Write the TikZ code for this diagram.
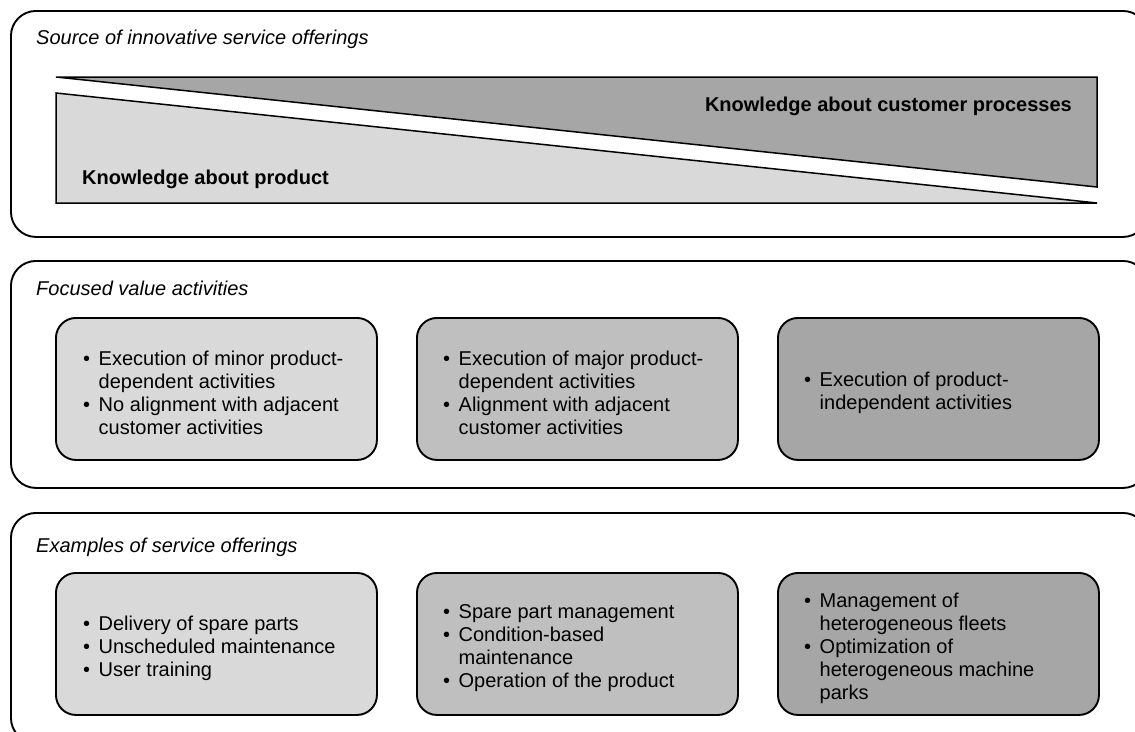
\documentclass[tikz,border=0pt]{standalone}
\usepackage{fontspec}
\setmainfont{Liberation Sans}
\definecolor{lightg}{HTML}{D9D9D9}
\definecolor{midg}{HTML}{BFBFBF}
\definecolor{darkg}{HTML}{A6A6A6}
\begin{document}
\begin{tikzpicture}[x=1pt,y=-1pt,
  panel/.style={draw=black, line width=1.9pt, rounded corners=25pt, anchor=north west, inner sep=0pt},
  itembox/.style={draw=black, line width=1.9pt, rounded corners=20pt, anchor=north west, inner sep=0pt, minimum width=321pt, minimum height=142pt},
  ptitle/.style={anchor=base west, inner sep=0pt, font=\fontsize{20}{23}\selectfont\itshape},
  itemtext/.style={anchor=west, inner sep=0pt, align=left, font=\fontsize{20}{23}\selectfont},
  bigtext/.style={inner sep=0pt, font=\fontsize{20}{23}\selectfont\bfseries},
  tri/.style={draw=black, line width=1.5pt, line join=miter}
]
\useasboundingbox (0,0) rectangle (1135,731);
\clip (0,0) rectangle (1135,731);
\newcommand{\bul}{\makebox[15.5pt][l]{\textbullet}}
\newcommand{\cont}{\hspace*{15.5pt}}

% panels
\node[panel, minimum width=1137pt, minimum height=226pt] (p1) at (10,10) {};
\node[panel, minimum width=1137pt, minimum height=227pt] (p2) at (10,260) {};
\node[panel, minimum width=1137pt, minimum height=230pt] (p3) at (10,512) {};

\node[ptitle] (t1) at (36,44) {Source of innovative service offerings};
\node[ptitle] (t2) at (36,295) {Focused value activities};
\node[ptitle] (t3) at (36,552) {Examples of service offerings};

% triangles
\coordinate (d1) at (56,77);
\coordinate (d2) at (1097,77);
\coordinate (d3) at (1097,187);
\coordinate (l1) at (56,93);
\coordinate (l2) at (56,203);
\coordinate (l3) at (1097,203);
\filldraw[tri, fill=darkg] (d1) -- (d2) -- (d3) -- cycle;
\filldraw[tri, fill=lightg] (l1) -- (l3) -- (l2) -- cycle;
\node[bigtext, anchor=base east] (k1) at (1072,111) {Knowledge about customer processes};
\node[bigtext, anchor=base west] (k2) at (82,184) {Knowledge about product};

% middle boxes
\node[itembox, fill=lightg] (a1) at (55,317) {};
\node[itembox, fill=midg] (a2) at (416,317) {};
\node[itembox, fill=darkg] (a3) at (777,317) {};
\node[itemtext] (a1t) at ([xshift=28pt,yshift=-4pt]a1.west) {\bul Execution of minor product-\\\cont dependent activities\\\bul No alignment with adjacent\\\cont customer activities};
\node[itemtext] (a2t) at ([xshift=27pt,yshift=-4pt]a2.west) {\bul Execution of major product-\\\cont dependent activities\\\bul Alignment with adjacent\\\cont customer activities};
\node[itemtext] (a3t) at ([xshift=27pt,yshift=-4pt]a3.west) {\bul Execution of product-\\\cont independent activities};

% bottom boxes
\node[itembox, fill=lightg] (b1) at (55,572) {};
\node[itembox, fill=midg] (b2) at (416,572) {};
\node[itembox, fill=darkg] (b3) at (777,572) {};
\node[itemtext] (b1t) at ([xshift=28pt,yshift=-4pt]b1.west) {\bul Delivery of spare parts\\\bul Unscheduled maintenance\\\bul User training};
\node[itemtext] (b2t) at ([xshift=27pt,yshift=-4pt]b2.west) {\bul Spare part management\\\bul Condition-based\\\cont maintenance\\\bul Operation of the product};
\node[itemtext] (b3t) at ([xshift=27pt,yshift=-4pt]b3.west) {\bul Management of\\\cont heterogeneous fleets\\\bul Optimization of\\\cont heterogeneous machine\\\cont parks};
\end{tikzpicture}
\end{document}
